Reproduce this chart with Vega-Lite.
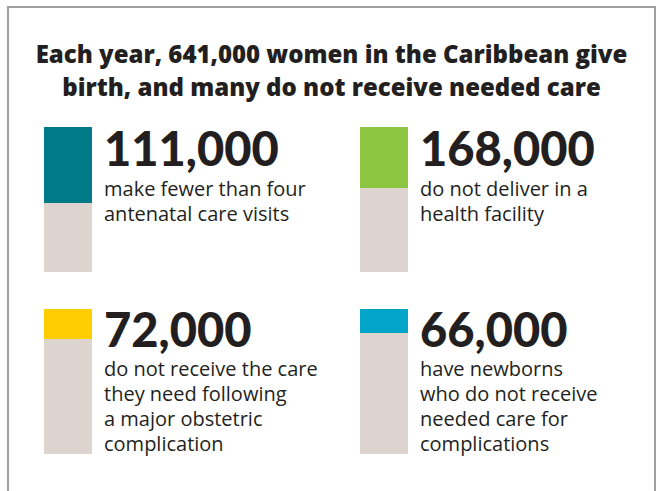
{
  "$schema": "https://vega.github.io/schema/vega-lite/v6.json",
  "autosize": "none",
  "width": 647,
  "height": 500,
  "padding": {"left": 8, "top": 7, "right": 7, "bottom": 0},
  "background": "white",
  "config": {
    "view": {"stroke": "#a39f9c", "strokeWidth": 2},
    "font": "Lato"
  },
  "title": {
    "text": ["Each year, 641,000 women in the Caribbean give", "birth, and many do not receive needed care"],
    "font": "Open Sans",
    "fontSize": 24,
    "fontWeight": 800,
    "color": "#231f20",
    "anchor": "middle",
    "lineHeight": 33,
    "offset": -94
  },
  "datasets": {
    "bars": [
      {"panel": "p1", "col": "left", "row": "top", "seg": "need", "key": "p1", "value": 52.4},
      {"panel": "p1", "col": "left", "row": "top", "seg": "rest", "key": "rest", "value": 47.6},
      {"panel": "p2", "col": "right", "row": "top", "seg": "need", "key": "p2", "value": 42.1},
      {"panel": "p2", "col": "right", "row": "top", "seg": "rest", "key": "rest", "value": 57.9},
      {"panel": "p3", "col": "left", "row": "bottom", "seg": "need", "key": "p3", "value": 20.7},
      {"panel": "p3", "col": "left", "row": "bottom", "seg": "rest", "key": "rest", "value": 79.3},
      {"panel": "p4", "col": "right", "row": "bottom", "seg": "need", "key": "p4", "value": 16.6},
      {"panel": "p4", "col": "right", "row": "bottom", "seg": "rest", "key": "rest", "value": 83.4}
    ],
    "labels": [
      {"panel": "p1", "col": "left", "row": "top", "number": "111,000", "desc": ["make fewer than four", "antenatal care visits"]},
      {"panel": "p2", "col": "right", "row": "top", "number": "168,000", "desc": ["do not deliver in a", "health facility"]},
      {"panel": "p3", "col": "left", "row": "bottom", "number": "72,000", "desc": ["do not receive the care", "they need following", "a major obstetric", "complication"]},
      {"panel": "p4", "col": "right", "row": "bottom", "number": "66,000", "desc": ["have newborns", "who do not receive", "needed care for", "complications"]}
    ]
  },
  "encoding": {
    "x": {"field": "col", "type": "nominal", "scale": {"type": "point", "domain": ["left", "right"], "range": [60, 376], "padding": 0}, "axis": null}
  },
  "layer": [
    {
      "data": {"name": "bars"},
      "transform": [{"filter": "datum.row === 'top'"}],
      "mark": {"type": "bar", "width": 48},
      "encoding": {
        "y": {"field": "value", "type": "quantitative", "stack": "zero", "scale": {"domain": [0, 100], "range": [265, 120], "nice": false, "zero": true}, "axis": null},
        "order": {"field": "seg", "sort": "descending"},
        "color": {"field": "key", "type": "nominal", "scale": {"domain": ["p1", "p2", "p3", "p4", "rest"], "range": ["#007a87", "#8cc540", "#ffcd00", "#00a5c8", "#ddd4cf"]}, "legend": null}
      }
    },
    {
      "data": {"name": "bars"},
      "transform": [{"filter": "datum.row === 'bottom'"}],
      "mark": {"type": "bar", "width": 48},
      "encoding": {
        "y": {"field": "value", "type": "quantitative", "stack": "zero", "scale": {"domain": [0, 100], "range": [447, 302], "nice": false, "zero": true}, "axis": null},
        "order": {"field": "seg", "sort": "descending"},
        "color": {"field": "key", "type": "nominal", "scale": {"domain": ["p1", "p2", "p3", "p4", "rest"], "range": ["#007a87", "#8cc540", "#ffcd00", "#00a5c8", "#ddd4cf"]}, "legend": null}
      }
    },
    {
      "data": {"name": "labels"},
      "transform": [{"filter": "datum.row === 'top'"}],
      "mark": {"type": "text", "align": "left", "baseline": "alphabetic", "dx": 36, "dy": 39, "font": "Lato", "fontSize": 47, "fontWeight": 900, "color": "#231f20"},
      "encoding": {
        "y": {"datum": 100, "type": "quantitative", "scale": {"domain": [0, 100], "range": [265, 120], "nice": false}, "axis": null},
        "text": {"field": "number"}
      }
    },
    {
      "data": {"name": "labels"},
      "transform": [{"filter": "datum.row === 'top'"}],
      "mark": {"type": "text", "align": "left", "baseline": "alphabetic", "dx": 36, "dy": 69, "font": "Open Sans", "fontSize": 20, "lineHeight": 24.5, "color": "#231f20"},
      "encoding": {
        "y": {"datum": 100, "type": "quantitative", "scale": {"domain": [0, 100], "range": [265, 120], "nice": false}, "axis": null},
        "text": {"field": "desc"}
      }
    },
    {
      "data": {"name": "labels"},
      "transform": [{"filter": "datum.row === 'bottom'"}],
      "mark": {"type": "text", "align": "left", "baseline": "alphabetic", "dx": 36, "dy": 38, "font": "Lato", "fontSize": 47, "fontWeight": 900, "color": "#231f20"},
      "encoding": {
        "y": {"datum": 100, "type": "quantitative", "scale": {"domain": [0, 100], "range": [447, 302], "nice": false}, "axis": null},
        "text": {"field": "number"}
      }
    },
    {
      "data": {"name": "labels"},
      "transform": [{"filter": "datum.row === 'bottom'"}],
      "mark": {"type": "text", "align": "left", "baseline": "alphabetic", "dx": 36, "dy": 67, "font": "Open Sans", "fontSize": 20, "lineHeight": 25, "color": "#231f20"},
      "encoding": {
        "y": {"datum": 100, "type": "quantitative", "scale": {"domain": [0, 100], "range": [447, 302], "nice": false}, "axis": null},
        "text": {"field": "desc"}
      }
    }
  ],
  "resolve": {"scale": {"y": "independent"}}
}
